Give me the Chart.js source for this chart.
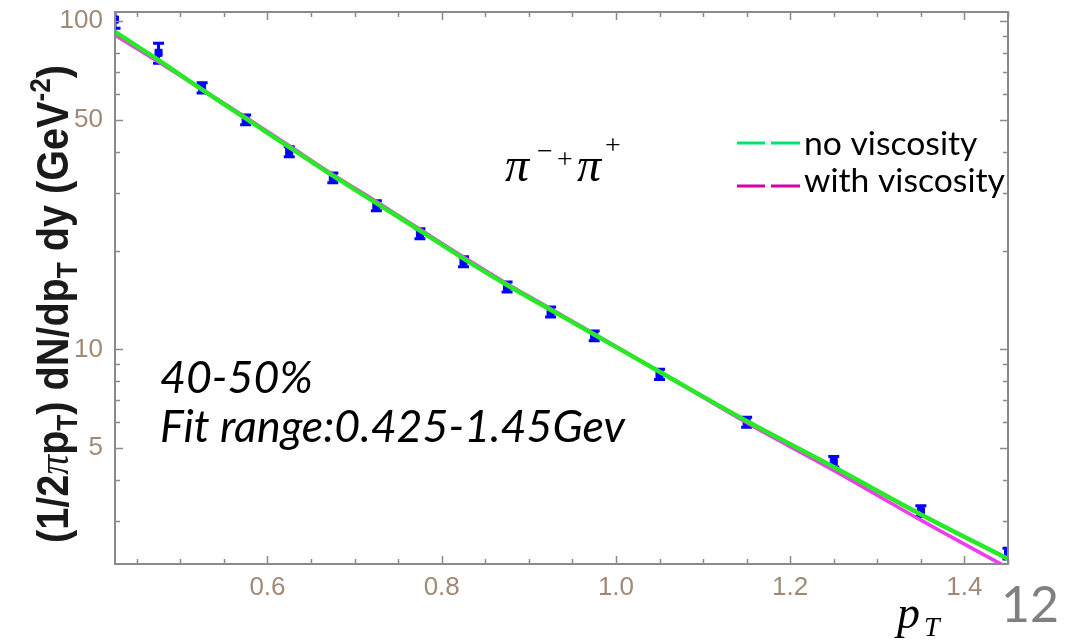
<!DOCTYPE html>
<html>
<head>
<meta charset="utf-8">
<title>pi spectrum 40-50%</title>
<script src="https://cdn.jsdelivr.net/npm/chart.js@4.4.0/dist/chart.umd.min.js"></script>
<style>
  html, body { margin: 0; padding: 0; background: #fff; }
  #wrap { position: relative; width: 1071px; height: 640px; }
</style>
</head>
<body>
<div id="wrap"><canvas id="spectrumChart"></canvas></div>
<script>
// pT bin centres (GeV)
const ptBins = [0.425, 0.475, 0.525, 0.575, 0.625, 0.675, 0.725, 0.775, 0.825,
                0.875, 0.925, 0.975, 1.05, 1.15, 1.25, 1.35, 1.45];
// measured pi- + pi+ yield and errors
const pionYield = [101, 80, 62.6, 50, 40, 33.3, 27.4, 22.5, 18.5,
                   15.5, 13.0, 11.0, 8.4, 6.0, 4.55, 3.22, 2.39];
const pionErr = [6, 5.6, 2.2, 1.7, 1.4, 1.15, 0.95, 0.8, 0.65,
                 0.55, 0.45, 0.38, 0.3, 0.21, 0.17, 0.12, 0.09];
// hydro fits
const fitNoVisc = [92.6, 76.0, 61.8, 50.5, 41.3, 33.8, 27.9, 23.0, 18.9,
                   15.7, 13.2, 11.1, 8.55, 6.05, 4.38, 3.14, 2.30];
const fitVisc = [90.5, 75.0, 61.9, 50.9, 41.7, 34.1, 28.2, 23.2, 19.1,
                 15.85, 13.3, 11.15, 8.55, 5.98, 4.28, 3.02, 2.16];

// axis ticks
const xTickLabels = [0.6, 0.8, 1.0, 1.2, 1.4];
const xMinorTicks = [0.45, 0.5, 0.55, 0.65, 0.7, 0.75, 0.85, 0.9, 0.95,
                     1.05, 1.1, 1.15, 1.25, 1.3, 1.35, 1.45];
const yTickLabels = [5, 10, 50, 100];
const yMinorTicks = [3, 4, 6, 7, 8, 9, 20, 30, 40, 60, 70, 80, 90];

const GREEN = 'rgb(40, 232, 40)';
const MAGENTA = 'rgb(238, 60, 238)';
const LEG_GREEN = 'rgb(0, 228, 110)';
const LEG_MAGENTA = 'rgb(214, 0, 160)';
const BLUE = '#0000ff';
const FRAME = '#8a8a8a';
const TICK_TEXT = '#a08a76';

const SANS = '"Liberation Sans", Arial, sans-serif';
const SERIF = '"Liberation Serif", "DejaVu Serif", serif';
const SLIDE = 'Lato, "Open Sans", sans-serif';

// font size that makes text span the given width
function fitSize(ctx, text, style, family, width) {
    ctx.font = style + ' 100px ' + family;
    return 100 * width / ctx.measureText(text).width;
}

// frame with inward ticks on all four sides
const frameTicks = {
    id: 'frameTicks',
    afterDatasetsDraw(chart) {
        const { ctx, chartArea: a, scales: { x, y } } = chart;
        ctx.save();
        ctx.strokeStyle = FRAME;
        ctx.lineWidth = 2;
        ctx.strokeRect(a.left, a.top, a.right - a.left, a.bottom - a.top);
        ctx.lineWidth = 1.5;
        ctx.beginPath();
        const xt = (v, len) => {
            const px = Math.round(x.getPixelForValue(v)) + 0.5;
            ctx.moveTo(px, a.bottom); ctx.lineTo(px, a.bottom - len);
            ctx.moveTo(px, a.top); ctx.lineTo(px, a.top + len);
        };
        const yt = (v, len) => {
            const py = Math.round(y.getPixelForValue(v)) + 0.5;
            ctx.moveTo(a.left, py); ctx.lineTo(a.left + len, py);
            ctx.moveTo(a.right, py); ctx.lineTo(a.right - len, py);
        };
        xTickLabels.forEach(v => xt(v, 8));
        xMinorTicks.forEach(v => xt(v, 5));
        yTickLabels.forEach(v => yt(v, 8));
        yMinorTicks.forEach(v => yt(v, 5));
        ctx.stroke();
        ctx.restore();
    }
};

// vertical error bars under the data squares
const errorBars = {
    id: 'errorBars',
    beforeDatasetsDraw(chart) {
        const { ctx, chartArea: a, scales: { x, y } } = chart;
        ctx.save();
        ctx.beginPath();
        ctx.rect(a.left, a.top, a.right - a.left, a.bottom - a.top);
        ctx.clip();
        ctx.strokeStyle = BLUE;
        ctx.lineWidth = 3;
        ptBins.forEach((pt, i) => {
            const px = x.getPixelForValue(pt);
            const hi = y.getPixelForValue(pionYield[i] + pionErr[i]);
            const lo = y.getPixelForValue(pionYield[i] - pionErr[i]);
            ctx.beginPath();
            ctx.moveTo(px, hi); ctx.lineTo(px, lo);
            ctx.moveTo(px - 5.5, hi); ctx.lineTo(px + 5.5, hi);
            ctx.moveTo(px - 5.5, lo); ctx.lineTo(px + 5.5, lo);
            ctx.stroke();
        });
        ctx.restore();
    }
};

// y title with sub/superscripts, rotated
const yTitleParts = [
    { t: '(1/2', style: 'bold', s: 1 },
    { t: 'π', style: 'italic', s: 1, serif: true },
    { t: 'p', style: 'bold', s: 1 },
    { t: 'T', style: 'bold', s: 0.66, dy: 0.2 },
    { t: ') dN/dp', style: 'bold', s: 1 },
    { t: 'T', style: 'bold', s: 0.66, dy: 0.2 },
    { t: ' dy (GeV', style: 'bold', s: 1 },
    { t: '-2', style: 'bold', s: 0.66, dy: -0.42 },
    { t: ')', style: 'bold', s: 1 }
];

function drawYTitle(ctx) {
    const base = 44;
    const font = p => p.style + ' ' + (base * p.s) + 'px ' + (p.serif ? SERIF : SANS);
    let total = 0;
    yTitleParts.forEach(p => { ctx.font = font(p); p.w = ctx.measureText(p.t).width; total += p.w; });
    ctx.save();
    ctx.translate(68, 304);
    ctx.rotate(-Math.PI / 2);
    ctx.scale(478 / total, 1);
    ctx.fillStyle = '#1a1a1a';
    ctx.textBaseline = 'alphabetic';
    let cx = -total / 2;
    yTitleParts.forEach(p => {
        ctx.font = font(p);
        ctx.fillText(p.t, cx, (p.dy || 0) * base);
        cx += p.w;
    });
    ctx.restore();
}

// labels, legend and captions
const notes = {
    id: 'notes',
    afterDraw(chart) {
        const ctx = chart.ctx;
        ctx.save();
        drawYTitle(ctx);

        // particle label
        ctx.fillStyle = '#000';
        ctx.textBaseline = 'alphabetic';
        ctx.font = 'italic 48px ' + SERIF;
        ctx.fillText('π', 505, 181);
        ctx.fillText('π', 577, 181);
        ctx.font = '28px ' + SERIF;
        ctx.fillText('−', 537, 160);
        ctx.fillText('+', 557, 168);
        ctx.fillText('+', 605, 154);

        // legend
        const legSize = fitSize(ctx, 'with viscosity', '', SLIDE, 201);
        ctx.font = legSize + 'px ' + SLIDE;
        ctx.lineWidth = 3;
        [[LEG_GREEN, 143, 155, 'no viscosity'], [LEG_MAGENTA, 186, 192, 'with viscosity']]
            .forEach(([col, ly, by, txt]) => {
                ctx.strokeStyle = col;
                ctx.beginPath();
                ctx.moveTo(737, ly); ctx.lineTo(765, ly);
                ctx.moveTo(771, ly); ctx.lineTo(800, ly);
                ctx.stroke();
                ctx.fillText(txt, 804, by);
            });

        // centrality and fit range
        const capSize = fitSize(ctx, 'Fit range:0.425-1.45Gev', 'italic', SLIDE, 465);
        ctx.font = 'italic ' + capSize + 'px ' + SLIDE;
        ctx.fillText('40-50%', 160, 393);
        ctx.fillText('Fit range:0.425-1.45Gev', 160, 442);

        // x axis label
        ctx.font = 'italic 46px ' + SERIF;
        ctx.fillText('p', 897, 628);
        ctx.font = 'italic 28px ' + SERIF;
        ctx.fillText('T', 924, 636);

        // page number
        ctx.fillStyle = '#808080';
        ctx.font = fitSize(ctx, '12', '', SLIDE, 58) + 'px ' + SLIDE;
        ctx.fillText('12', 1001, 622);
        ctx.restore();
    }
};

const toPoints = vals => ptBins.map((pt, i) => ({ x: pt, y: vals[i] }));

new Chart(document.getElementById('spectrumChart'), {
    type: 'line',
    data: {
        datasets: [
            {
                label: 'no viscosity',
                data: toPoints(fitNoVisc),
                borderColor: GREEN,
                borderWidth: 4.5,
                pointRadius: 0,
                tension: 0.35,
                order: 0
            },
            {
                label: 'with viscosity',
                data: toPoints(fitVisc),
                borderColor: MAGENTA,
                borderWidth: 3.5,
                pointRadius: 0,
                tension: 0.35,
                order: 1
            },
            {
                type: 'scatter',
                label: 'data',
                data: toPoints(pionYield),
                pointStyle: 'rect',
                pointRadius: 5,
                backgroundColor: BLUE,
                borderColor: BLUE,
                borderWidth: 1,
                clip: 0,
                order: 2
            }
        ]
    },
    options: {
        responsive: true,
        maintainAspectRatio: false,
        animation: false,
        layout: { padding: { left: 0, top: 12, right: 63, bottom: 0 } },
        plugins: {
            legend: { display: false },
            tooltip: { enabled: false }
        },
        scales: {
            x: {
                type: 'linear',
                min: 0.425,
                max: 1.45,
                grid: { display: false, drawTicks: false },
                border: { display: false },
                afterBuildTicks: s => { s.ticks = xTickLabels.map(v => ({ value: v })); },
                afterFit: s => { s.height = 76; s.paddingLeft = 0; s.paddingRight = 0; },
                ticks: {
                    autoSkip: false,
                    maxRotation: 0,
                    padding: 8,
                    color: TICK_TEXT,
                    font: { family: '"Liberation Sans Narrow", ' + SANS, size: 26 },
                    callback: v => v.toFixed(1)
                }
            },
            y: {
                type: 'logarithmic',
                min: 2.22,
                max: 106.5,
                grid: { display: false, drawTicks: false },
                border: { display: false },
                afterBuildTicks: s => { s.ticks = yTickLabels.map(v => ({ value: v })); },
                afterFit: s => { s.width = 115; s.paddingTop = 0; s.paddingBottom = 0; },
                ticks: {
                    autoSkip: false,
                    padding: 12,
                    color: TICK_TEXT,
                    font: { family: '"Liberation Sans Narrow", ' + SANS, size: 26 },
                    callback: v => String(v)
                }
            }
        }
    },
    plugins: [errorBars, frameTicks, notes]
});
</script>
</body>
</html>
